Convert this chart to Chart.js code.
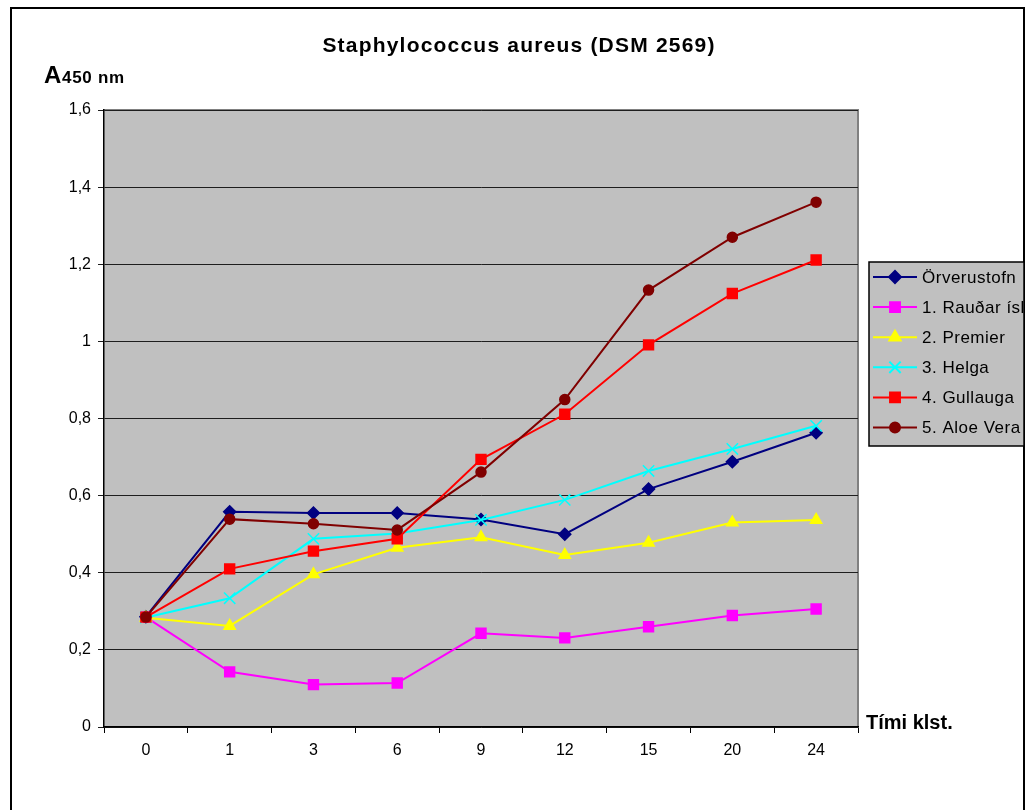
<!DOCTYPE html>
<html>
<head>
<meta charset="utf-8">
<script src="https://cdn.jsdelivr.net/npm/chart.js@4"></script>
<style>
  html, body { margin: 0; padding: 0; background: #fff; }
</style>
</head>
<body>
<canvas id="chart" width="1027" height="810"></canvas>
<script>
// Hours of incubation (category axis)
const hours = ['0', '1', '3', '6', '9', '12', '15', '20', '24'];

// Absorbance at 450 nm
const orverustofn = [0.286, 0.558, 0.555, 0.555, 0.538, 0.500, 0.617, 0.688, 0.763];
const raudarIsl   = [0.285, 0.143, 0.110, 0.114, 0.243, 0.231, 0.260, 0.289, 0.306];
const premier     = [0.283, 0.262, 0.396, 0.465, 0.492, 0.446, 0.478, 0.530, 0.537];
const helga       = [0.284, 0.334, 0.488, 0.502, 0.537, 0.589, 0.664, 0.721, 0.781];
const gullauga    = [0.285, 0.410, 0.456, 0.488, 0.694, 0.811, 0.991, 1.124, 1.211];
const aloeVera    = [0.285, 0.539, 0.527, 0.511, 0.661, 0.849, 1.133, 1.270, 1.361];

const seriesNames = ['Örverustofn', '1. Rauðar ísl', '2. Premier', '3. Helga', '4. Gullauga', '5. Aloe Vera'];

const FONT = "'Liberation Sans', Arial, sans-serif";

/**
 * Builds one line dataset in the Excel look.
 */
function makeSeries(label, data, color, style, radius, order) {
    return {
        label: label,
        data: data,
        borderColor: color,
        backgroundColor: color,
        borderWidth: 2,
        pointStyle: style,
        pointRadius: radius,
        pointHoverRadius: radius,
        pointBorderWidth: 1.5,
        pointBorderColor: color,
        pointBackgroundColor: color,
        lineTension: 0,
        order: order
    };
}

// Grey plot area, outer frame, title, axis titles and legend box
const excelLook = {
    id: 'excelLook',
    beforeDraw(chart) {
        const ctx = chart.ctx;
        const a = chart.chartArea;
        ctx.save();
        ctx.fillStyle = '#fff';
        ctx.fillRect(0, 0, chart.width, chart.height);
        ctx.fillStyle = '#c0c0c0';
        ctx.fillRect(a.left, a.top, a.right - a.left, a.bottom - a.top);
        ctx.strokeStyle = '#808080';
        ctx.lineWidth = 2;
        ctx.beginPath();
        ctx.moveTo(a.left, a.top);
        ctx.lineTo(a.right, a.top);
        ctx.lineTo(a.right, a.bottom);
        ctx.stroke();
        ctx.restore();
    },
    afterDraw(chart) {
        const ctx = chart.ctx;
        ctx.save();
        // outer frame
        ctx.strokeStyle = '#000';
        ctx.lineWidth = 2;
        ctx.strokeRect(11, 8, 1013, 820);

        // title
        ctx.fillStyle = '#000';
        ctx.textBaseline = 'alphabetic';
        ctx.textAlign = 'center';
        ctx.font = 'bold 21px ' + FONT;
        ctx.letterSpacing = '1.2px';
        ctx.fillText('Staphylococcus aureus (DSM 2569)', 519, 52);

        // y axis title
        ctx.letterSpacing = '0px';
        ctx.textAlign = 'left';
        ctx.font = 'bold 24px ' + FONT;
        ctx.fillText('A', 44, 83);
        ctx.font = 'bold 17px ' + FONT;
        ctx.letterSpacing = '0.7px';
        ctx.fillText('450 nm', 62, 83);

        // x axis title
        ctx.letterSpacing = '0px';
        ctx.font = 'bold 20px ' + FONT;
        ctx.fillText('Tími klst.', 866, 729);

        // legend
        const box = { x: 869, y: 262, w: 155, h: 184 };
        ctx.fillStyle = '#c0c0c0';
        ctx.fillRect(box.x, box.y, box.w, box.h);
        ctx.strokeStyle = '#000';
        ctx.lineWidth = 1.5;
        ctx.strokeRect(box.x, box.y, box.w, box.h);
        ctx.beginPath();
        ctx.rect(box.x, box.y, box.w, box.h);
        ctx.clip();
        chart.data.datasets.forEach((ds, i) => {
            const y = 277 + i * 30.1;
            ctx.strokeStyle = ds.borderColor;
            ctx.fillStyle = ds.borderColor;
            ctx.lineWidth = 2;
            ctx.beginPath();
            ctx.moveTo(873, y);
            ctx.lineTo(917, y);
            ctx.stroke();
            Chart.helpers.drawPoint(ctx, {
                pointStyle: ds.pointStyle,
                radius: ds.pointRadius,
                rotation: 0,
                borderWidth: 1.5
            }, 895, y);
            ctx.fillStyle = '#000';
            ctx.font = '17px ' + FONT;
            ctx.letterSpacing = '0.5px';
            ctx.textBaseline = 'middle';
            ctx.fillText(ds.label, 922, y + 1);
        });
        ctx.restore();
    }
};

const chart = new Chart(document.getElementById('chart'), {
    type: 'line',
    data: {
        labels: hours,
        datasets: [
            makeSeries(seriesNames[0], orverustofn, '#000080', 'rectRot', 6, 5),
            makeSeries(seriesNames[1], raudarIsl, '#ff00ff', 'rect', 7, 4),
            makeSeries(seriesNames[2], premier, '#ffff00', 'triangle', 6.5, 3),
            makeSeries(seriesNames[3], helga, '#00ffff', 'crossRot', 8, 2),
            makeSeries(seriesNames[4], gullauga, '#ff0000', 'rect', 7, 1),
            makeSeries(seriesNames[5], aloeVera, '#800000', 'circle', 5, 0)
        ]
    },
    options: {
        responsive: false,
        animation: false,
        layout: {
            padding: { top: 110, right: 169, bottom: 0, left: 0 }
        },
        plugins: {
            legend: { display: false },
            tooltip: { enabled: false },
            title: { display: false }
        },
        scales: {
            x: {
                offset: true,
                grid: {
                    offset: true,
                    drawOnChartArea: false,
                    drawTicks: true,
                    tickLength: 6,
                    color: '#000'
                },
                border: { color: '#000', width: 1.5 },
                ticks: {
                    color: '#000',
                    padding: 8,
                    font: { family: FONT, size: 16 }
                },
                afterFit(scale) { scale.height = 83; }
            },
            y: {
                min: 0,
                max: 1.6,
                grid: {
                    color: '#1e1e1e',
                    lineWidth: 1,
                    drawTicks: true,
                    tickLength: 6
                },
                border: { color: '#000', width: 1.5 },
                ticks: {
                    stepSize: 0.2,
                    color: '#000',
                    padding: 7,
                    font: { family: FONT, size: 16 },
                    callback: (v) => String(Math.round(v * 10) / 10).replace('.', ',')
                },
                afterFit(scale) { scale.width = 104; }
            }
        }
    },
    plugins: [excelLook]
});
</script>
</body>
</html>
